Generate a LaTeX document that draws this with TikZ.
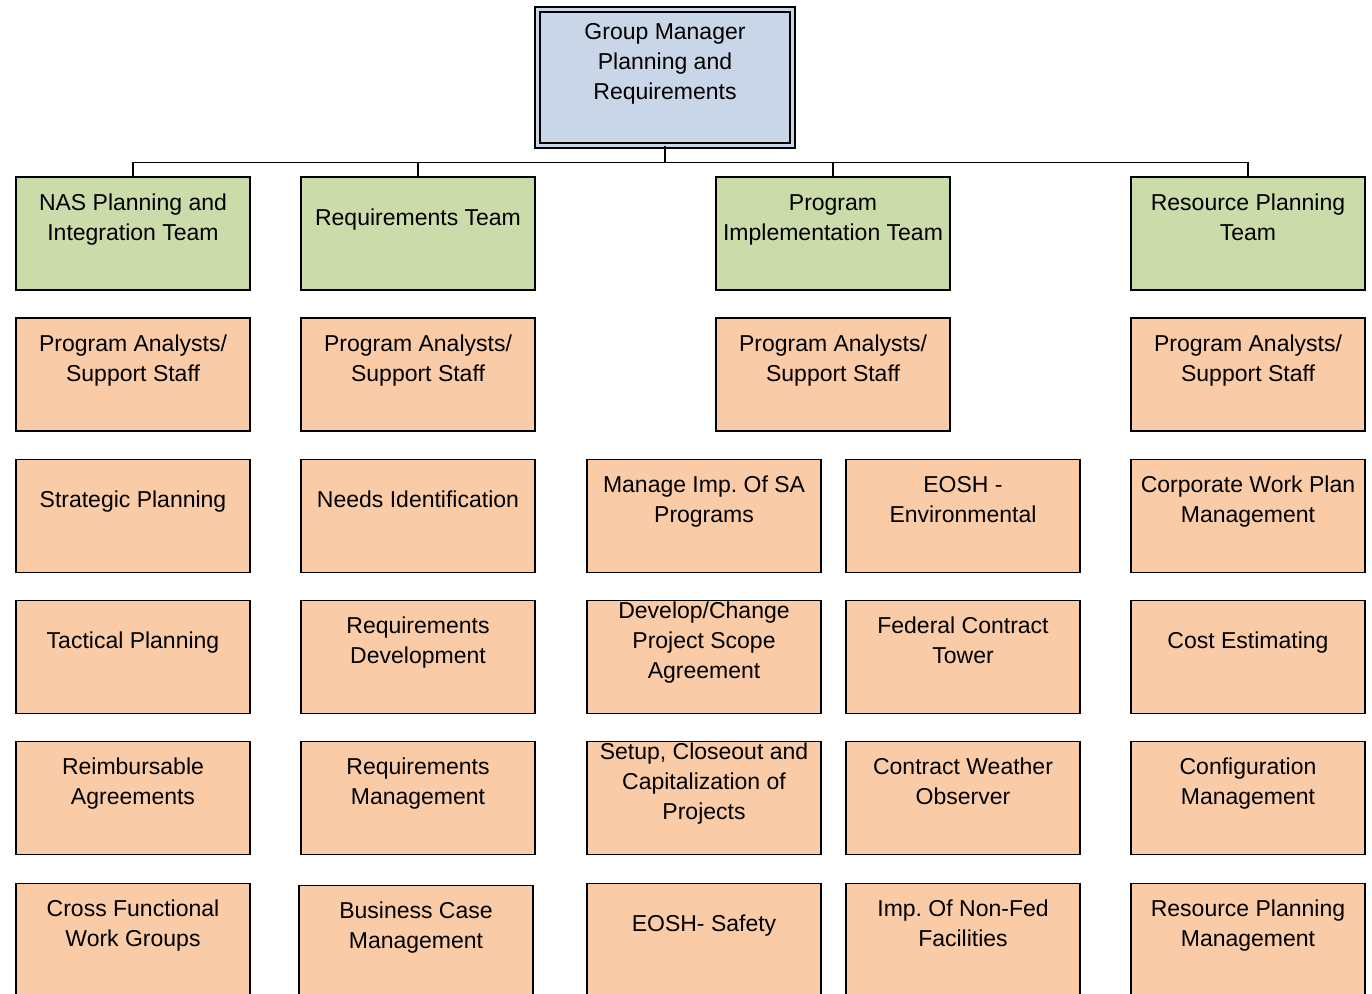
\documentclass[tikz,border=0pt]{standalone}
\usepackage{fontspec}
\setmainfont{Liberation Sans}
\frenchspacing
\definecolor{boxgreen}{RGB}{204,219,170}
\definecolor{boxorange}{RGB}{250,203,167}
\definecolor{boxblue}{RGB}{200,214,232}
\tikzset{
  cell/.style={draw=black, line width=1.5pt, minimum width=234pt, minimum height=113pt, inner sep=0pt, outer sep=0pt, anchor=north},
  greencell/.style={cell, fill=boxgreen},
  orangecell/.style={cell, fill=boxorange},
  celltext/.style={inner sep=0pt, align=center, font=\fontsize{23}{30}\selectfont\frenchspacing},
  link/.style={draw=black, line width=1.6pt}
}
\newcommand{\orgcell}[5]{%
  \node[#2] (#1) at (#3,#4) {};
  \node[celltext] (#1t) at ([yshift=-42pt]#1.north) {\strut #5\strut};
}
\begin{document}
\begin{tikzpicture}[x=1pt,y=-1pt]
\path[use as bounding box] (0,0) rectangle (1372,993);
\clip (0,0) rectangle (1372,993);
% top box
\node[draw=black, line width=1.5pt, double=boxblue, double distance=3.5pt, fill=boxblue,
  minimum width=255pt, minimum height=136pt, inner sep=0pt, outer sep=0pt] (top) at (665,77.5) {};
\node[celltext] (topt) at (665,63.5) {\strut Group Manager\\Planning and\\Requirements\strut};
% teams
\orgcell{g1}{greencell}{133}{177}{NAS Planning and\\Integration Team}
\orgcell{g2}{greencell}{418}{177}{Requirements Team}
\orgcell{g3}{greencell}{833}{177}{Program\\Implementation Team}
\orgcell{g4}{greencell}{1248}{177}{Resource Planning\\Team}
% row 2
\orgcell{a2}{orangecell}{133}{318}{Program Analysts/\\Support Staff}
\orgcell{b2}{orangecell}{418}{318}{Program Analysts/\\Support Staff}
\orgcell{c2}{orangecell}{833}{318}{Program Analysts/\\Support Staff}
\orgcell{d2}{orangecell}{1248}{318}{Program Analysts/\\Support Staff}
% row 3
\orgcell{a3}{orangecell}{133}{459.5}{Strategic Planning}
\orgcell{b3}{orangecell}{418}{459.5}{Needs Identification}
\orgcell{c3}{orangecell}{704}{459.5}{Manage Imp. Of SA\\Programs}
\orgcell{e3}{orangecell}{963}{459.5}{EOSH -\\Environmental}
\orgcell{d3}{orangecell}{1248}{459.5}{Corporate Work Plan\\Management}
% row 4
\orgcell{a4}{orangecell}{133}{600.5}{Tactical Planning}
\orgcell{b4}{orangecell}{418}{600.5}{Requirements\\Development}
\orgcell{c4}{orangecell}{704}{600.5}{Develop/Change\\Project Scope\\Agreement}
\orgcell{e4}{orangecell}{963}{600.5}{Federal Contract\\Tower}
\orgcell{d4}{orangecell}{1248}{600.5}{Cost Estimating}
% row 5
\orgcell{a5}{orangecell}{133}{741.5}{Reimbursable\\Agreements}
\orgcell{b5}{orangecell}{418}{741.5}{Requirements\\Management}
\orgcell{c5}{orangecell}{704}{741.5}{Setup, Closeout and\\Capitalization of\\Projects}
\orgcell{e5}{orangecell}{963}{741.5}{Contract Weather\\Observer}
\orgcell{d5}{orangecell}{1248}{741.5}{Configuration\\Management}
% row 6
\orgcell{a6}{orangecell}{133}{883.5}{Cross Functional\\Work Groups}
\orgcell{b6}{orangecell}{416}{885.5}{Business Case\\Management}
\orgcell{c6}{orangecell}{704}{883.5}{EOSH- Safety}
\orgcell{e6}{orangecell}{963}{883.5}{Imp. Of Non-Fed\\Facilities}
\orgcell{d6}{orangecell}{1248}{883.5}{Resource Planning\\Management}
% connectors
\coordinate (bus) at (665,162.5);
\draw[link] (top.south) -- (bus);
\draw[link] (g1.north) -- (g1.north |- bus) -- (g4.north |- bus) -- (g4.north);
\draw[link] (g2.north) -- (g2.north |- bus);
\draw[link] (g3.north) -- (g3.north |- bus);
\end{tikzpicture}
\end{document}
